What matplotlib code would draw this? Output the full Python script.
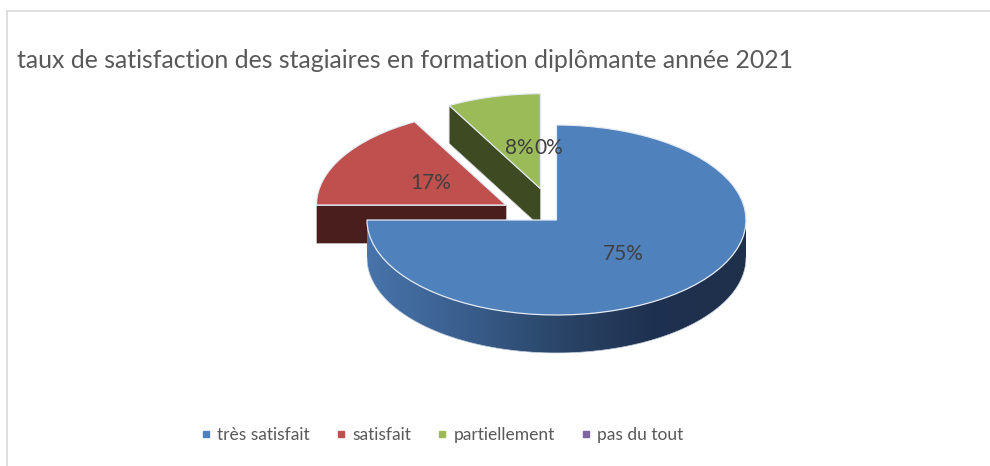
import numpy as np
import matplotlib
matplotlib.use('Agg')
import matplotlib.pyplot as plt
from matplotlib.patches import Polygon
from matplotlib.lines import Line2D
from matplotlib.colors import LinearSegmentedColormap

# ---------------- data ----------------
categories = ['très satisfait', 'satisfait', 'partiellement', 'pas du tout']
values = [75, 17, 8, 0]
pct_labels = ['75%', '17%', '8%', '0%']
title = 'taux de satisfaction des stagiaires en formation diplômante année 2021'

# ---------------- style ----------------
top_colors = ['#4F81BD', '#C0504D', '#9BBB59', '#8064A2']
side_colors = ['#2E4B72', '#4B1E1E', '#3D4A22', '#3F3151']
explode = [0, 0.31, 0.34, 0]
label_r = [0.5, 0.46, 0.44, 0.7]
FONT = ['Lato', 'DejaVu Sans']
plt.rcParams['font.family'] = FONT

W, H = 990, 466
fig = plt.figure(figsize=(W / 100, H / 100), dpi=100)
ax = fig.add_axes([0, 0, 1, 1])

# pixel geometry of the pie top ellipse
cx_px, cy_px = 556.5, H - 220
rx_px, ry_px = 189.5, 95
depth = 38 / ry_px

wedges, _ = ax.pie(values, explode=explode, startangle=90, counterclock=False,
                   colors=top_colors,
                   wedgeprops=dict(edgecolor='#e4eaf2', linewidth=0.9))
for w, v in zip(wedges, values):
    w.set_zorder(5)
    if v == 0:
        w.set_linewidth(0)

ax.set_aspect('auto')
ax.set_xlim(-cx_px / rx_px, (W - cx_px) / rx_px)
ax.set_ylim(-cy_px / ry_px, (H - cy_px) / ry_px)
ax.axis('off')


def arc_pts(c, a0, a1, dy=0.0, n=120):
    t = np.radians(np.linspace(a0, a1, n))
    return np.column_stack([c[0] + np.cos(t), c[1] + np.sin(t) + dy])


blue_grad = LinearSegmentedColormap.from_list(
    'bg', ['#4874AB', '#3A5F8E', '#2B4669', '#1F3150', '#1E304A'])

for i, (w, v) in enumerate(zip(wedges, values)):
    if v == 0:
        continue
    c = np.array(w.center)
    th1, th2 = w.theta1, w.theta2
    # outer front arc
    for k in (-1, 0, 1):
        a = max(th1, -180 + 360 * k)
        b = min(th2, 0 + 360 * k)
        if b - a > 0.5:
            top = arc_pts(c, a, b)
            bot = arc_pts(c, b, a, dy=-depth)
            poly = Polygon(np.vstack([top, bot]), closed=True,
                           facecolor=side_colors[i], edgecolor='none', zorder=3)
            ax.add_patch(poly)
            if i == 0:
                im = ax.imshow(np.linspace(0, 1, 256)[None, :], cmap=blue_grad,
                               extent=(c[0] - 1, c[0] + 1, c[1] - 1 - depth, c[1]),
                               aspect='auto', zorder=3.5, interpolation='bilinear')
                im.set_clip_path(poly)
            ax.plot(bot[:, 0], bot[:, 1], color='#dde3ec', lw=0.5, zorder=3.6)
    # cut faces
    for th, vis in ((th1, np.cos(np.radians(th1)) > 1e-6),
                    (th2, np.cos(np.radians(th2)) < -1e-6)):
        if vis:
            d = np.array([np.cos(np.radians(th)), np.sin(np.radians(th))])
            quad = np.array([c, c + d, c + d - [0, depth], c - [0, depth]])
            ax.add_patch(Polygon(quad, closed=True, facecolor=side_colors[i],
                                 edgecolor='#c8c8c8', linewidth=0.5, zorder=3))

# percentage labels
txts = []
for i, w in enumerate(wedges):
    c = np.array(w.center)
    mid = np.radians((w.theta1 + w.theta2) / 2)
    pos = c + label_r[i] * np.array([np.cos(mid), np.sin(mid)])
    txts.append((pos, pct_labels[i]))

lbl_kw = dict(fontsize=15, color='#404040', zorder=10)
for i in range(3):
    ax.text(txts[i][0][0], txts[i][0][1], txts[i][1], ha='center', va='center', **lbl_kw)
t8 = ax.texts[-1]
ax.annotate(pct_labels[3], xy=(1, 0.5), xycoords=t8, ha='left', va='center', **lbl_kw)

# title
fig.text(17 / W, (H - 60) / H, title, fontsize=17.9, color='#595959',
         ha='left', va='center')

# frame lines
fig.add_artist(Line2D([7 / W, 1], [(H - 11) / H] * 2, color='#d9d9d9', lw=1.2,
                      transform=fig.transFigure))
fig.add_artist(Line2D([7 / W] * 2, [0, (H - 11) / H], color='#d9d9d9', lw=1.2,
                      transform=fig.transFigure))

# legend
handles = [Line2D([], [], marker='s', linestyle='none', markersize=5,
                  markerfacecolor=top_colors[i], markeredgecolor=top_colors[i])
           for i in range(len(categories))]
fig.legend(handles, categories, loc='center', bbox_to_anchor=(442 / W, (H - 435) / H),
           ncol=4, frameon=False, fontsize=12.5, labelcolor='#595959',
           handlelength=0.6, handletextpad=0.35, columnspacing=1.5)

fig.savefig('out.png', dpi=100, facecolor='white')
